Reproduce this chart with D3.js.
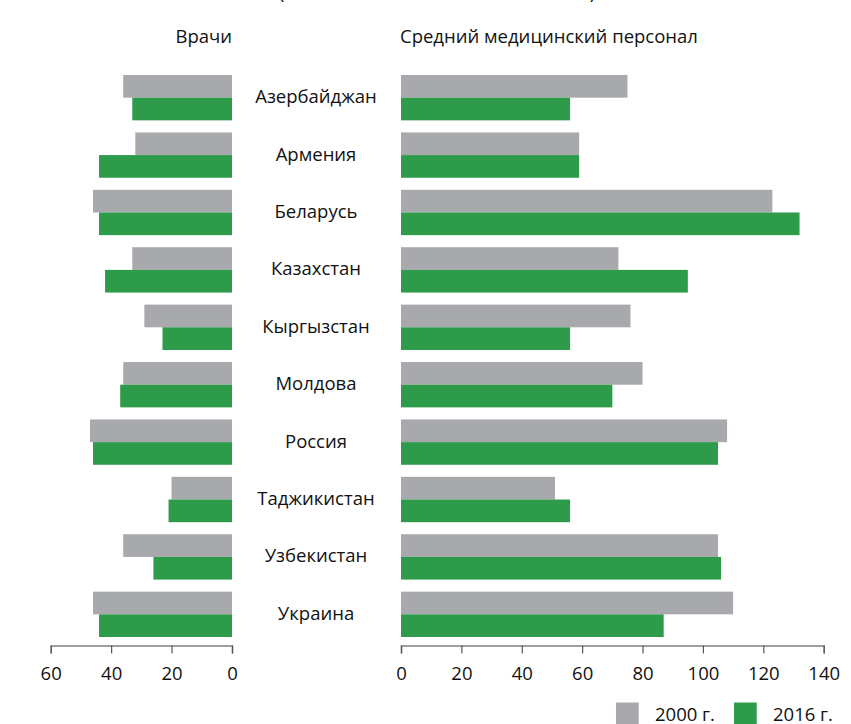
<!DOCTYPE html>
<html>
<head>
<meta charset="utf-8">
<script src="https://cdn.jsdelivr.net/npm/d3@7"></script>
<style>
  body { margin: 0; background: #fff; }
  svg text { font-family: "Open Sans", sans-serif; fill: #111; }
</style>
</head>
<body>
<svg id="chart"></svg>
<script>
const width = 851;
const height = 724;

const countries = ['Азербайджан', 'Армения', 'Беларусь', 'Казахстан', 'Кыргызстан',
    'Молдова', 'Россия', 'Таджикистан', 'Узбекистан', 'Украина'];
const years = ['2000 г.', '2016 г.'];

// врачи
const doctors2000 = [36, 32, 46, 33, 29, 36, 47, 20, 36, 46];
const doctors2016 = [33, 44, 44, 42, 23, 37, 46, 21, 26, 44];
// средний медицинский персонал
const nurses2000 = [75, 59, 123, 72, 76, 80, 108, 51, 105, 110];
const nurses2016 = [56, 59, 132, 95, 56, 70, 105, 56, 106, 87];

const leftTicks = [0, 20, 40, 60];
const rightTicks = [0, 20, 40, 60, 80, 100, 120, 140];

const colors = { '2000 г.': '#a8a9ad', '2016 г.': '#2e9b4a' };

const svg = d3.select('#chart')
    .attr('width', width)
    .attr('height', height);

const y = d3.scaleBand()
    .domain(countries)
    .range([75, 637])
    .paddingInner(0.21);

const ySub = d3.scaleBand()
    .domain(years)
    .range([0, y.bandwidth()]);

const xL = d3.scaleLinear().domain([0, 60]).range([232, 50.7]);
const xR = d3.scaleLinear().domain([0, 140]).range([401, 823.7]);

const rows = countries.map((c, i) => ({
    country: c,
    left: [
        { year: years[0], v: doctors2000[i] },
        { year: years[1], v: doctors2016[i] }
    ],
    right: [
        { year: years[0], v: nurses2000[i] },
        { year: years[1], v: nurses2016[i] }
    ]
}));

// subtitle, cut off at the top edge as in the source
svg.append('text')
    .attr('x', 437)
    .attr('y', -1.5)
    .attr('text-anchor', 'middle')
    .attr('textLength', 316)
    .attr('lengthAdjust', 'spacing')
    .style('font-size', '18px')
    .text('(на 10 000 населения в 2000 и 2016 гг.)');

// panel headers
svg.append('text')
    .attr('x', 232)
    .attr('y', 43)
    .attr('text-anchor', 'end')
    .style('font-size', '18.5px')
    .text('Врачи');

svg.append('text')
    .attr('x', 400)
    .attr('y', 43)
    .style('font-size', '18.5px')
    .text('Средний медицинский персонал');

const g = svg.selectAll('g.row')
    .data(rows)
    .enter().append('g')
    .attr('class', 'row')
    .attr('transform', d => `translate(0,${y(d.country)})`);

g.selectAll('rect.l')
    .data(d => d.left)
    .enter().append('rect')
    .attr('class', 'l')
    .attr('x', d => xL(d.v))
    .attr('y', d => ySub(d.year))
    .attr('width', d => xL(0) - xL(d.v))
    .attr('height', ySub.bandwidth())
    .style('fill', d => colors[d.year]);

g.selectAll('rect.r')
    .data(d => d.right)
    .enter().append('rect')
    .attr('class', 'r')
    .attr('x', xR(0))
    .attr('y', d => ySub(d.year))
    .attr('width', d => xR(d.v) - xR(0))
    .attr('height', ySub.bandwidth())
    .style('fill', d => colors[d.year]);

g.append('text')
    .attr('x', 316)
    .attr('y', y.bandwidth() / 2 + 5.5)
    .attr('text-anchor', 'middle')
    .style('font-size', '18.5px')
    .text(d => d.country);

// axes
const axisY = 645.5;

function styleAxis(sel) {
    sel.select('.domain').attr('stroke', '#808080').attr('stroke-width', 1.5);
    sel.selectAll('.tick line').attr('stroke', '#555').attr('stroke-width', 1.2);
    sel.selectAll('.tick text')
        .style('font-size', '18.5px')
        .style('font-family', '"Open Sans", sans-serif')
        .attr('fill', '#111')
        .attr('dy', '0')
        .attr('y', 34);
}

svg.append('g')
    .attr('transform', `translate(0,${axisY})`)
    .call(d3.axisBottom(xL).tickValues(leftTicks).tickSize(8).tickSizeOuter(8))
    .call(styleAxis);

svg.append('g')
    .attr('transform', `translate(0,${axisY})`)
    .call(d3.axisBottom(xR).tickValues(rightTicks).tickSize(8).tickSizeOuter(8))
    .call(styleAxis);

// legend
const legend = svg.append('g').selectAll('g')
    .data(years)
    .enter().append('g')
    .attr('transform', (d, i) => `translate(${616 + i * 118},702.5)`);

legend.append('rect')
    .attr('width', 22.7)
    .attr('height', 22)
    .style('fill', d => colors[d]);

legend.append('text')
    .attr('x', 39)
    .attr('y', 18)
    .style('font-size', '18.5px')
    .text(d => d);
</script>
</body>
</html>
